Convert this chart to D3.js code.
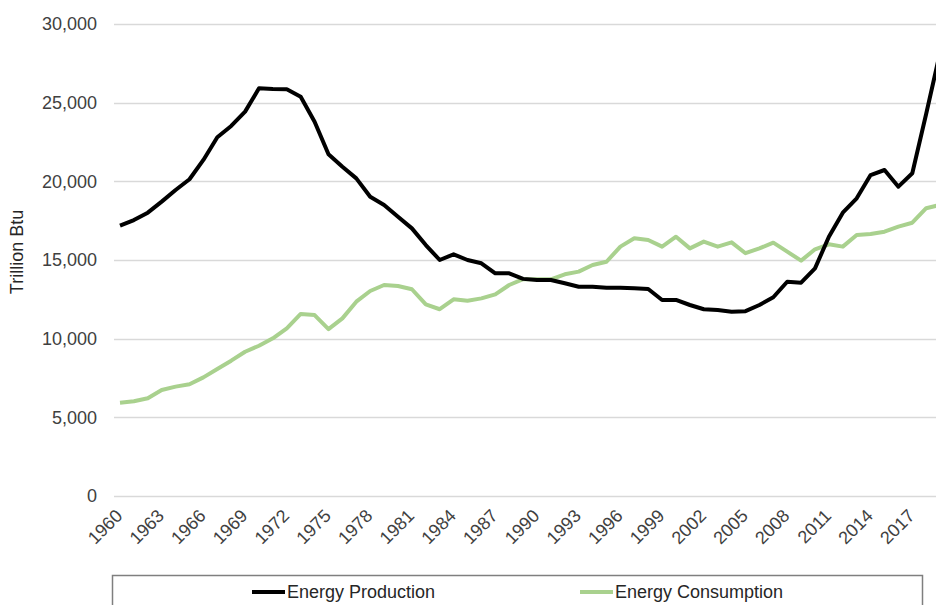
<!DOCTYPE html>
<html>
<head>
<meta charset="utf-8">
<script src="https://cdn.jsdelivr.net/npm/d3@7"></script>
<style>
  body { margin: 0; background: #fff; }
  svg { display: block; font-family: "Liberation Sans", Arial, sans-serif; }
</style>
</head>
<body>
<script>
const largura = 936
const altura = 605

const anos = d3.range(1960, 2020)

const producao = [17180, 17540, 18010, 18710, 19450, 20130, 21360, 22800, 23520, 24430,
  25910, 25870, 25850, 25380, 23790, 21720, 20930, 20190, 19020, 18500,
  17750, 17010, 15950, 15000, 15360, 15000, 14790, 14150, 14150, 13800,
  13730, 13730, 13520, 13300, 13300, 13240, 13240, 13200, 13160, 12460,
  12460, 12140, 11870, 11820, 11710, 11750, 12140, 12630, 13620, 13560,
  14470, 16480, 18010, 18920, 20400, 20720, 19660, 20510, 24300, 28200]

const consumo = [5930, 6020, 6210, 6740, 6950, 7100, 7540, 8070, 8600, 9170,
  9550, 10020, 10660, 11570, 11500, 10610, 11290, 12350, 13030, 13410,
  13350, 13140, 12180, 11870, 12500, 12410, 12560, 12820, 13410, 13780,
  13770, 13770, 14090, 14260, 14680, 14890, 15850, 16380, 16270, 15850,
  16480, 15740, 16170, 15850, 16120, 15430, 15740, 16100, 15530, 14960,
  15680, 16000, 15850, 16590, 16650, 16800, 17120, 17370, 18290, 18500]

const ticksY = [0, 5000, 10000, 15000, 20000, 25000, 30000]
const ticksX = d3.range(1960, 2018, 3)

const series = [
  {nome: 'Energy Production', valores: producao, cor: '#000000'},
  {nome: 'Energy Consumption', valores: consumo, cor: '#a9d18e'}
]

const svg = d3.select('body').append('svg')
  .attr('width', largura)
  .attr('height', altura)

const escalaX = d3.scaleLinear().domain([1960, 2019]).range([120, 940.1])
const escalaY = d3.scaleLinear().domain([0, 30000]).range([496, 24])

// linhas de grade
svg.append('g')
  .selectAll('line')
  .data(ticksY)
  .join('line')
    .attr('x1', 114)
    .attr('x2', largura)
    .attr('y1', d => Math.round(escalaY(d)) + 0.5)
    .attr('y2', d => Math.round(escalaY(d)) + 0.5)
    .attr('stroke', '#d9d9d9')
    .attr('stroke-width', 1.5)

// eixo Y
const eixoY = d3.axisLeft(escalaY)
  .tickValues(ticksY)
  .tickFormat(d3.format(','))
  .tickSize(0)
  .tickPadding(0)

svg.append('g')
  .attr('transform', 'translate(97,0)')
  .call(eixoY)
  .call(g => g.select('.domain').remove())
  .selectAll('text')
    .attr('font-size', 18)
    .attr('font-family', '"Liberation Sans", Arial, sans-serif')
    .attr('fill', '#404040')

svg.append('text')
  .attr('transform', 'translate(23,252) rotate(-90)')
  .attr('text-anchor', 'middle')
  .attr('font-size', 18)
  .attr('fill', '#262626')
  .text('Trillion Btu')

// eixo X
const eixoX = d3.axisBottom(escalaX)
  .tickValues(ticksX)
  .tickFormat(d3.format('d'))
  .tickSize(0)

const gX = svg.append('g')
  .attr('transform', 'translate(0,496)')
  .call(eixoX)
gX.select('.domain').remove()
gX.selectAll('text')
  .attr('font-size', 18)
  .attr('font-family', '"Liberation Sans", Arial, sans-serif')
  .attr('fill', '#404040')
  .attr('text-anchor', 'end')
  .attr('dy', 0)
  .attr('y', 0)
  .attr('transform', 'translate(3,21) rotate(-45)')

// linhas das series
const gerador = d3.line()
  .x((d, i) => escalaX(anos[i]))
  .y(d => escalaY(d))

svg.append('g')
  .selectAll('path')
  .data(series.slice().reverse())
  .join('path')
    .attr('d', d => gerador(d.valores))
    .attr('fill', 'none')
    .attr('stroke', d => d.cor)
    .attr('stroke-width', 4)
    .attr('stroke-linejoin', 'round')

// legenda
svg.append('rect')
  .attr('x', 112.5)
  .attr('y', 575.5)
  .attr('width', 810)
  .attr('height', 60)
  .attr('fill', 'none')
  .attr('stroke', '#7f7f7f')
  .attr('stroke-width', 1.5)

const posLegenda = [252, 580]
const itens = svg.append('g')
  .selectAll('g')
  .data(series)
  .join('g')
    .attr('transform', (d, i) => 'translate(' + posLegenda[i] + ',592)')

itens.append('line')
  .attr('x1', 0)
  .attr('x2', 33)
  .attr('stroke', d => d.cor)
  .attr('stroke-width', 4)

itens.append('text')
  .attr('x', 35)
  .attr('y', 6)
  .attr('font-size', 18)
  .attr('fill', '#262626')
  .text(d => d.nome)
</script>
</body>
</html>
